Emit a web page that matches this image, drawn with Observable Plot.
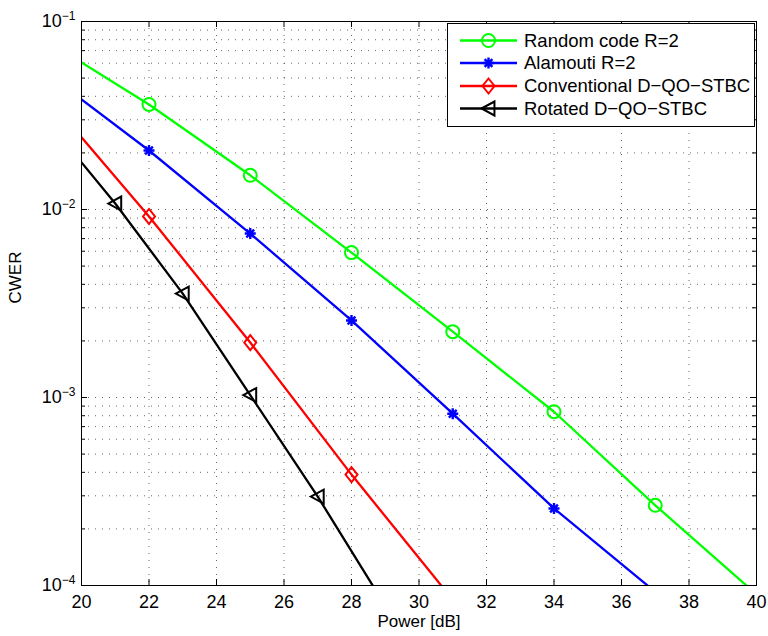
<!DOCTYPE html>
<html>
<head>
<meta charset="utf-8">
<script src="https://cdn.jsdelivr.net/npm/d3@7"></script>
<script src="https://cdn.jsdelivr.net/npm/@observablehq/plot@0.6"></script>
<style>
  html, body { margin: 0; padding: 0; background: white; }
  #chart { width: 768px; height: 636px; }
</style>
</head>
<body>
<div id="chart"></div>
<script>
// ---- data ----
const xTicks = [20, 22, 24, 26, 28, 30, 32, 34, 36, 38, 40];
const yMajorTicks = [1e-4, 1e-3, 1e-2, 1e-1];
const yTickLabels = ["10^−4", "10^−3", "10^−2", "10^−1"];
const xLabel = "Power [dB]";
const yLabel = "CWER";

const seriesNames = ["Random code R=2", "Alamouti R=2", "Conventional D−QO−STBC", "Rotated D−QO−STBC"];
const seriesColors = ["#00ff00", "#0000ff", "#ff0000", "#000000"];

const randomX = [20, 22, 25, 28, 31, 34, 37, 40];
const randomY = [0.0605, 0.0362, 0.0152, 0.0059, 0.00224, 0.00084, 0.000267, 0.0000897];
const randomMarkX = [22, 25, 28, 31, 34, 37];

const alamoutiX = [20, 22, 25, 28, 31, 34, 37];
const alamoutiY = [0.0385, 0.0206, 0.00745, 0.00257, 0.00082, 0.000257, 0.0000925];
const alamoutiMarkX = [22, 25, 28, 31, 34];

const convX = [20, 22, 25, 28, 31];
const convY = [0.0242, 0.00918, 0.00196, 0.000389, 0.000084];
const convMarkX = [22, 25, 28];

const rotX = [20, 21, 23, 25, 27, 29];
const rotY = [0.0178, 0.01076, 0.00357, 0.00103, 0.000297, 0.000078];
const rotMarkX = [21, 23, 25, 27];

// ---- custom MATLAB-like symbols ----
const triangleLeft = {
  draw(ctx, size) {
    const r = Math.sqrt(size / Math.PI);
    ctx.moveTo(-r, 0);
    ctx.lineTo(r * 0.85, -r);
    ctx.lineTo(r * 0.85, r);
    ctx.closePath();
  }
};
const asterisk8 = {
  draw(ctx, size) {
    const r = Math.sqrt(size / Math.PI);
    for (let k = 0; k < 4; k++) {
      const a = k * Math.PI / 4;
      ctx.moveTo(-r * Math.cos(a), -r * Math.sin(a));
      ctx.lineTo(r * Math.cos(a), r * Math.sin(a));
    }
  }
};
const diamondM = {
  draw(ctx, size) {
    const r = Math.sqrt(size / Math.PI);
    ctx.moveTo(0, -r);
    ctx.lineTo(r * 0.8, 0);
    ctx.lineTo(0, r);
    ctx.lineTo(-r * 0.8, 0);
    ctx.closePath();
  }
};
const circleM = {
  draw(ctx, size) {
    const r = Math.sqrt(size / Math.PI);
    ctx.moveTo(r, 0);
    ctx.arc(0, 0, r, 0, 2 * Math.PI);
  }
};
const symbols = [circleM, asterisk8, diamondM, triangleLeft];
const symbolR = [6.5, 5.5, 7.5, 7];

// ---- build tables ----
function table(xs, ys, name) { return xs.map((x, i) => ({x, y: ys[i], name})); }
const lines = [
  table(randomX, randomY, seriesNames[0]),
  table(alamoutiX, alamoutiY, seriesNames[1]),
  table(convX, convY, seriesNames[2]),
  table(rotX, rotY, seriesNames[3])
];
const markX = [randomMarkX, alamoutiMarkX, convMarkX, rotMarkX];
const markers = lines.map((l, i) => l.filter(d => markX[i].includes(d.x)));

const yGrid = [];
for (let e = -4; e <= -2; e++) for (let k = 1; k <= 9; k++) {
  const v = k * Math.pow(10, e);
  if (v > 1e-4 * 1.0001) yGrid.push(v);
}
const yMinor = yGrid.filter(v => !yMajorTicks.some(m => Math.abs(m - v) / m < 1e-6));
const xInner = xTicks.slice(1, -1);

const W = 768, H = 636, ML = 81, MR = 12, MT = 21, MB = 51;
const FW = W - ML - MR, FH = H - MT - MB;
const font = "'Liberation Sans', Arial, Helvetica, sans-serif";
const grid = {stroke: "#000", strokeOpacity: 0.6, strokeWidth: 1, strokeDasharray: "1,6"};
const lineW = 2.3;

const marks = [
  Plot.ruleY(yGrid, {y: d => d, ...grid}),
  Plot.ruleX(xInner, {x: d => d, ...grid}),
  // inward ticks
  Plot.ruleX(xInner, {x: d => d, insetTop: FH - 6, stroke: "black"}),
  Plot.ruleX(xInner, {x: d => d, insetBottom: FH - 6, stroke: "black"}),
  Plot.ruleY(yMajorTicks, {y: d => d, insetRight: FW - 6, stroke: "black"}),
  Plot.ruleY(yMajorTicks, {y: d => d, insetLeft: FW - 6, stroke: "black"}),
  Plot.ruleY(yMinor, {y: d => d, insetRight: FW - 4, stroke: "black"}),
  Plot.ruleY(yMinor, {y: d => d, insetLeft: FW - 4, stroke: "black"}),
];
lines.forEach((l, i) => {
  marks.push(Plot.line(l, {x: "x", y: "y", stroke: seriesColors[i], strokeWidth: lineW, clip: true}));
});
markers.forEach((m, i) => {
  marks.push(Plot.dot(m, {x: "x", y: "y", stroke: seriesColors[i], fill: "none",
    strokeWidth: i === 1 ? 2.4 : 2, symbol: () => symbols[i], r: symbolR[i]}));
});
marks.push(
  Plot.frame({stroke: "black", strokeWidth: 1}),
  Plot.axisX(xTicks, {tickSize: 0, tickPadding: 10, fontSize: 18, label: null}),
  Plot.axisY(yMajorTicks, {tickSize: 0, tickPadding: 6, fontSize: 18, label: null,
    tickFormat: (d) => yTickLabels[yMajorTicks.indexOf(d)]}),
  Plot.text([xLabel], {text: d => d, frameAnchor: "bottom", dy: 41, fontSize: 17}),
  Plot.text([yLabel], {text: d => d, frameAnchor: "left", dx: -66, rotate: -90, fontSize: 17})
);

const svg = Plot.plot({
  width: W, height: H,
  marginLeft: ML, marginRight: MR, marginTop: MT, marginBottom: MB,
  style: {fontFamily: font, fontSize: "17px", color: "black", background: "white"},
  x: {domain: [20, 40]},
  y: {type: "log", domain: [1e-4, 1e-1]},
  marks
});

// superscript exponents on y labels
d3.select(svg).selectAll('g[aria-label="y-axis tick label"] text').each(function () {
  const t = d3.select(this);
  const s = t.text();
  const [base, exp] = s.split("^");
  t.text(null);
  t.append("tspan").text(base);
  t.append("tspan").attr("dy", "-0.62em").attr("font-size", "12px").text(exp);
});

// legend
const lg = d3.select(svg).append("g").attr("font-family", font).attr("font-size", 18.5)
  .attr("text-anchor", "start");
lg.append("rect").attr("x", 447.5).attr("y", 23.5).attr("width", 307).attr("height", 103)
  .attr("fill", "white").attr("stroke", "black");
const rowY = [40.5, 63, 86, 108.5];
seriesNames.forEach((name, i) => {
  const y = rowY[i];
  lg.append("line").attr("x1", 460).attr("x2", 517).attr("y1", y).attr("y2", y)
    .attr("stroke", seriesColors[i]).attr("stroke-width", lineW);
  lg.append("path").attr("transform", `translate(488.5,${y})`)
    .attr("d", d3.symbol(symbols[i], Math.PI * symbolR[i] * symbolR[i])())
    .attr("fill", "none").attr("stroke", seriesColors[i]).attr("stroke-width", i === 1 ? 2.4 : 2);
  lg.append("text").attr("x", 524).attr("y", y).attr("dy", "0.35em")
    .attr("text-anchor", "start").text(name);
});

document.getElementById("chart").append(svg);
</script>
</body>
</html>
